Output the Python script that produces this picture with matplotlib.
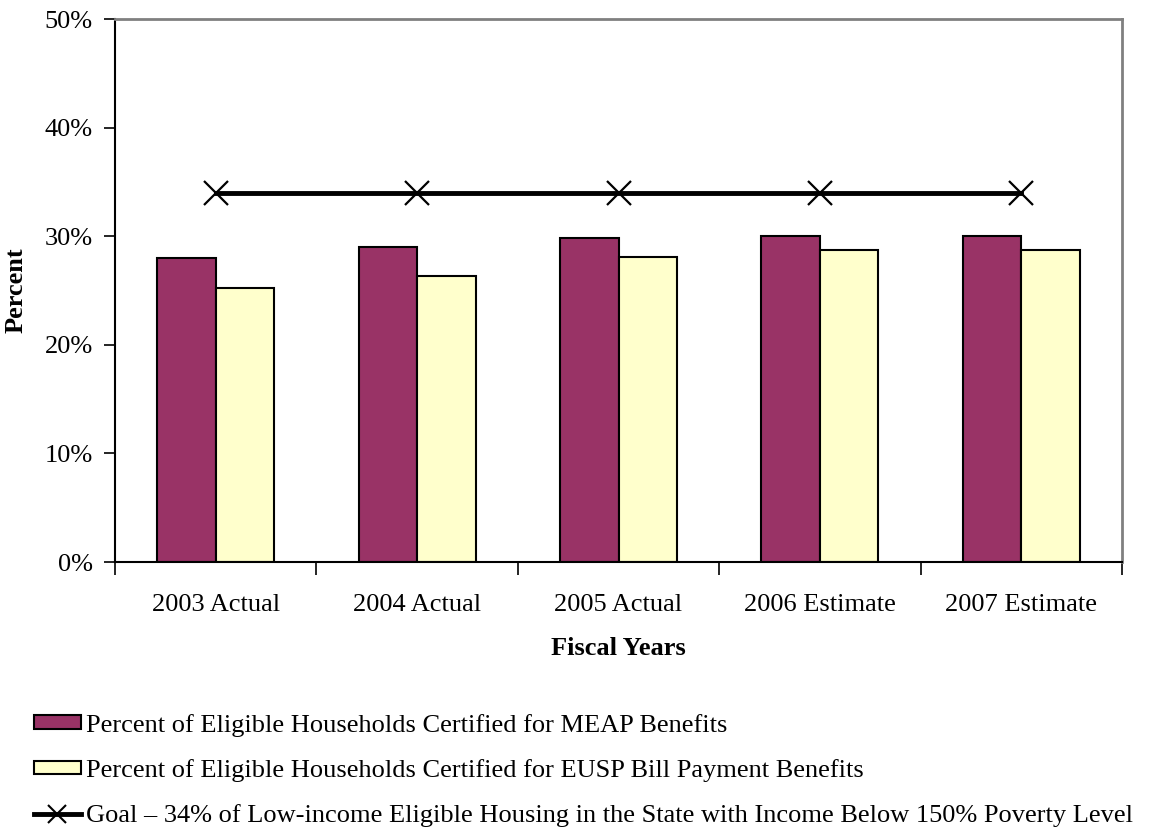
import matplotlib
matplotlib.use("Agg")
import matplotlib.pyplot as plt
from matplotlib.lines import Line2D
from matplotlib.patches import Patch
from matplotlib.ticker import FuncFormatter, MultipleLocator
import numpy as np

plt.rcParams["font.family"] = ["Liberation Serif", "DejaVu Serif"]

years = ["2003 Actual", "2004 Actual", "2005 Actual", "2006 Estimate", "2007 Estimate"]
meap_pct = [28.0, 29.0, 29.8, 30.0, 30.0]
eusp_pct = [25.2, 26.3, 28.1, 28.7, 28.7]
goal_pct = [34, 34, 34, 34, 34]

LABELS = [
    "Percent of Eligible Households Certified for MEAP Benefits",
    "Percent of Eligible Households Certified for EUSP Bill Payment Benefits",
    "Goal \u2013 34% of Low-income Eligible Housing in the State with Income Below 150% Poverty Level",
]
MEAP_COLOR = "#993366"
EUSP_COLOR = "#FFFFCC"
FS = 19

fig = plt.figure(figsize=(11.57, 8.3), dpi=100)
ax = fig.add_axes([115 / 1157, 1 - 562 / 830, (1122 - 115) / 1157, (562 - 19) / 830])

x = np.arange(len(years))
w = 0.29
ax.bar(x - w / 2, meap_pct, w, color=MEAP_COLOR, edgecolor="black", linewidth=1.5, zorder=2)
ax.bar(x + w / 2, eusp_pct, w, color=EUSP_COLOR, edgecolor="black", linewidth=1.5, zorder=2)
ax.plot(x, goal_pct, color="black", linewidth=3.5, marker="x", markersize=17,
        markeredgewidth=1.6, zorder=3)

ax.set_xlim(-0.5, len(years) - 0.5)
ax.set_ylim(0, 50)
ax.yaxis.set_major_locator(MultipleLocator(10))
ax.yaxis.set_major_formatter(FuncFormatter(lambda v, _: f"{v:.0f}%"))
ax.tick_params(axis="y", direction="out", length=8, width=1.2, pad=8, labelsize=FS)

ax.set_xticks(x)
ax.set_xticklabels(years)
ax.set_xticks(np.arange(len(years) + 1) - 0.5, minor=True)
ax.tick_params(axis="x", which="major", length=0, pad=23, labelsize=FS)
ax.tick_params(axis="x", which="minor", direction="out", length=9, width=1.2)

for side in ("left", "bottom"):
    ax.spines[side].set_color("black")
    ax.spines[side].set_linewidth(1.5)
for side in ("top", "right"):
    ax.spines[side].set_color("#808080")
    ax.spines[side].set_linewidth(2)

ax.set_xlabel("Fiscal Years", fontsize=FS, fontweight="bold", labelpad=15)
ax.set_ylabel("Percent", fontsize=FS, fontweight="bold")
ax.yaxis.set_label_coords(-0.087, 0.5)

handles = [
    Patch(facecolor=MEAP_COLOR, edgecolor="black", linewidth=1.5),
    Patch(facecolor=EUSP_COLOR, edgecolor="black", linewidth=1.5),
    Line2D([], [], color="black", linewidth=3.5, marker="x", markersize=13, markeredgewidth=1.5),
]
fig.legend(handles, LABELS, loc="upper left", bbox_to_anchor=(23 / 1157, 1 - 703 / 830),
           frameon=False, fontsize=FS, handlelength=1.8, handleheight=0.42,
           handletextpad=0.2, labelspacing=0.85, borderaxespad=0)

fig.savefig("out.png", dpi=100)
